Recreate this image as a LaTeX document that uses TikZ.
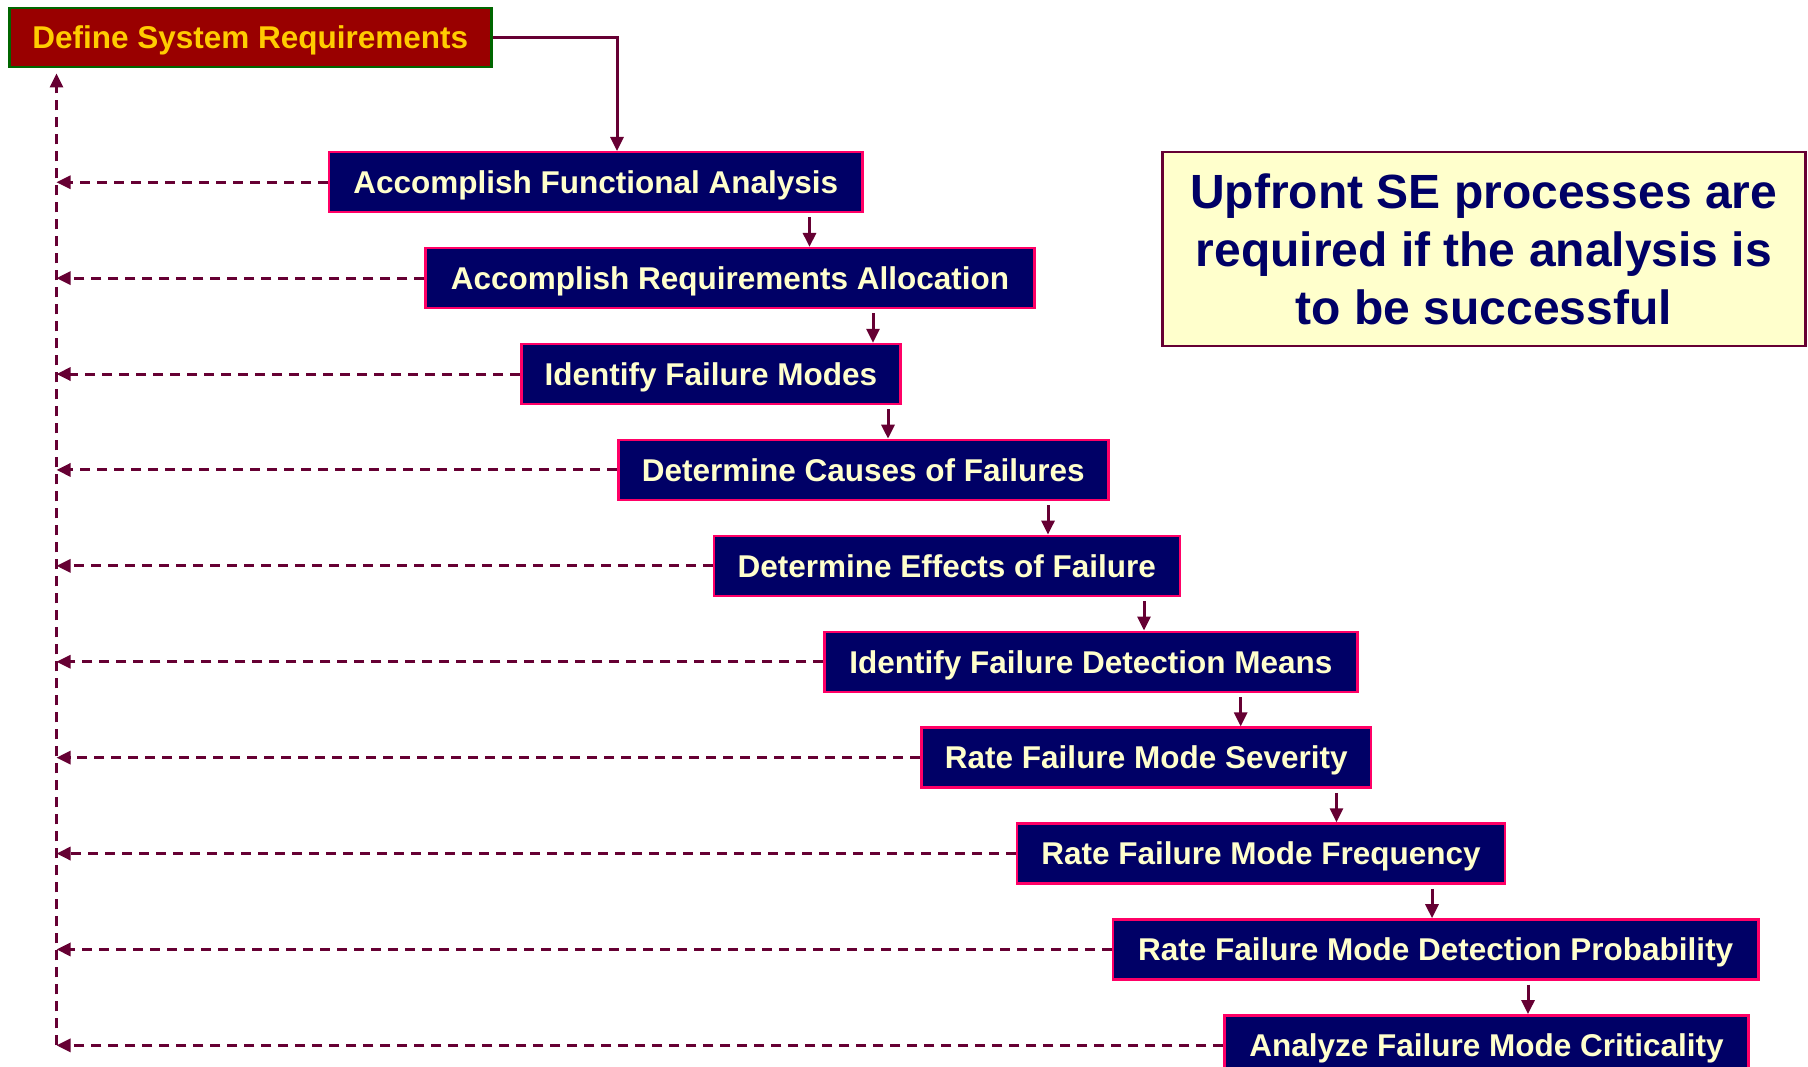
\documentclass[tikz,border=0pt]{standalone}
\usepackage{fontspec}
\setmainfont{Liberation Sans}
\usetikzlibrary{arrows.meta}
\definecolor{navyfill}{HTML}{000066}
\definecolor{pinkborder}{HTML}{FF0066}
\definecolor{lighttext}{HTML}{FFFFCC}
\definecolor{maroon}{HTML}{660033}
\definecolor{redfill}{HTML}{990000}
\definecolor{greenborder}{HTML}{006600}
\definecolor{goldtext}{HTML}{FFCC00}
\definecolor{notefill}{HTML}{FFFFCC}
\tikzset{
  stepbox/.style={draw=pinkborder, fill=navyfill, line width=2.5pt, text=lighttext,
    font=\bfseries\fontsize{31.5}{38}\selectfont, minimum height=60pt, inner sep=0pt,
    text height=22.5pt, text depth=0pt, anchor=north west},
  topbox/.style={draw=greenborder, fill=redfill, line width=2.5pt, text=goldtext,
    font=\bfseries\fontsize{31.5}{38}\selectfont, minimum height=59pt, minimum width=482pt,
    inner sep=0pt, text height=22.5pt, text depth=0pt, anchor=north west},
  notebox/.style={draw=maroon, fill=notefill, line width=2.5pt, text=navyfill,
    font=\bfseries\fontsize{48}{57.6}\selectfont, minimum height=194pt, minimum width=643pt,
    inner sep=0pt, anchor=north west, align=center},
  flow/.style={draw=maroon, line width=3pt, -{Triangle[length=14pt,width=13pt]}},
  back/.style={draw=maroon, line width=3pt, dash pattern=on 10pt off 7pt,
    -{Triangle[length=14pt,width=13pt]}},
}
\begin{document}
\begin{tikzpicture}[x=1pt,y=-1pt]
\useasboundingbox (0,0) rectangle (1808,1067);
\node[topbox] (def) at (8,7) {Define System Requirements};
\node[stepbox, minimum width=533.9pt] (b1) at (327.5,151) {Accomplish Functional Analysis};
\node[stepbox, minimum width=608.9pt] (b2) at (424.3,246.9) {Accomplish Requirements Allocation};
\node[stepbox, minimum width=379.4pt] (b3) at (520,342.8) {Identify Failure Modes};
\node[stepbox, minimum width=490pt] (b4) at (617,438.7) {Determine Causes of Failures};
\node[stepbox, minimum width=465.9pt] (b5) at (712.6,534.6) {Determine Effects of Failure};
\node[stepbox, minimum width=532.7pt] (b6) at (823.3,630.5) {Identify Failure Detection Means};
\node[stepbox, minimum width=449.7pt] (b7) at (920.2,726.4) {Rate Failure Mode Severity};
\node[stepbox, minimum width=487.7pt] (b8) at (1015.9,822.3) {Rate Failure Mode Frequency};
\node[stepbox, minimum width=645.7pt] (b9) at (1111.6,918.2) {Rate Failure Mode Detection Probability};
\node[stepbox, minimum width=523.6pt] (b10) at (1223.4,1014.1) {Analyze Failure Mode Criticality};
\node[notebox] (note) at (1161,151) {Upfront SE processes are\\required if the analysis is\\to be successful};

% forward flow
\coordinate (k0) at (617,0);
\draw[flow] (def.east) -| (k0 |- b1.north);
\coordinate (k1) at (809.5,0);
\coordinate (k2) at (873,0);
\coordinate (k3) at (888,0);
\coordinate (k4) at (1048,0);
\coordinate (k5) at (1144,0);
\coordinate (k6) at (1240.7,0);
\coordinate (k7) at (1336.5,0);
\coordinate (k8) at (1432,0);
\coordinate (k9) at (1528,0);
\draw[flow, shorten <=4pt] (k1 |- b1.south) -- (k1 |- b2.north);
\draw[flow, shorten <=4pt] (k2 |- b2.south) -- (k2 |- b3.north);
\draw[flow, shorten <=4pt] (k3 |- b3.south) -- (k3 |- b4.north);
\draw[flow, shorten <=4pt] (k4 |- b4.south) -- (k4 |- b5.north);
\draw[flow, shorten <=4pt] (k5 |- b5.south) -- (k5 |- b6.north);
\draw[flow, shorten <=4pt] (k6 |- b6.south) -- (k6 |- b7.north);
\draw[flow, shorten <=4pt] (k7 |- b7.south) -- (k7 |- b8.north);
\draw[flow, shorten <=4pt] (k8 |- b8.south) -- (k8 |- b9.north);
\draw[flow, shorten <=4pt] (k9 |- b9.south) -- (k9 |- b10.north);

% feedback
\coordinate (rail) at (56.5,0);
\draw[back, shorten >=5pt] (rail |- b10.west) -- (rail |- def.south);
\foreach \b in {b1,b2,b3,b4,b5,b6,b7,b8,b9,b10}{
  \draw[back] (\b.west) -- (rail |- \b.west);
}
\end{tikzpicture}
\end{document}
